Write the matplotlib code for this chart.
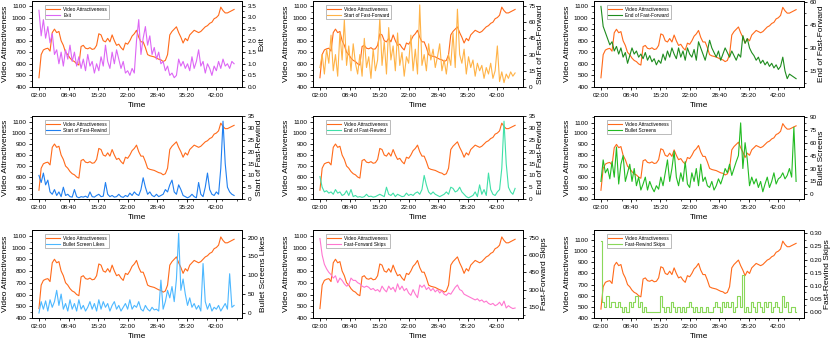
import numpy as np
import matplotlib
matplotlib.use("Agg")
import matplotlib.pyplot as plt
from matplotlib.ticker import MultipleLocator, FormatStrFormatter

plt.rcParams['font.family'] = ['Liberation Sans', 'DejaVu Sans']

# time axis (seconds), one sample every 30 s
t_sec = np.arange(120, 2761, 30)
time_ticks = [120, 520, 920, 1320, 1720, 2120, 2520]
time_labels = ["02:00", "08:40", "15:20", "22:00", "28:40", "35:20", "42:00"]

video_attr = [480, 680, 720, 730, 735, 710, 870, 900, 870, 880,
              800, 760, 700, 680, 650, 630, 620, 600, 590, 750,
              760, 735, 730, 740, 725, 730, 760, 860, 850, 800,
              790, 820, 790, 850, 800, 760, 770, 740, 720, 780,
              770, 800, 840, 860, 890, 830, 790, 790, 740, 680,
              670, 665, 660, 650, 640, 635, 620, 630, 680, 850,
              880, 900, 920, 870, 830, 780, 820, 800, 850, 870,
              890, 880, 870, 880, 900, 920, 930, 950, 960, 990,
              1000, 1020, 1090, 1060, 1040, 1040, 1050, 1060, 1070]

exit_rate = [3.3, 2.2, 2.9, 2.1, 2.6, 1.9, 2.3, 1.4, 1.6, 1.0,
             1.5, 0.9, 1.6, 1.2, 1.8, 1.1, 1.5, 0.9, 1.3, 0.8,
             1.2, 0.7, 1.4, 0.9, 1.1, 0.6, 1.0, 0.7, 1.3, 0.9,
             1.8, 1.1, 0.8, 1.5, 1.0, 1.6, 1.2, 0.8, 1.1, 0.6,
             0.7, 0.5, 0.8, 0.6, 2.0, 2.9, 1.4, 2.1, 2.6, 1.8,
             2.2, 1.4, 1.7, 1.2, 1.5, 1.0, 1.1, 0.7, 0.9, 0.5,
             0.6, 0.4, 0.5, 1.2, 0.9, 1.1, 0.8, 1.0, 0.7, 1.3,
             0.8, 1.1, 1.6, 0.9, 1.1, 0.6, 1.0, 0.8, 0.5, 0.9,
             0.7, 1.1, 0.8, 1.2, 0.9, 1.0, 0.8, 1.1, 1.0]

start_ff = [18, 30, 12, 35, 22, 48, 15, 30, 10, 50,
            25, 62, 20, 38, 15, 40, 22, 12, 30, 10,
            45, 18, 28, 8, 35, 15, 25, 64, 20, 42,
            12, 55, 25, 38, 15, 50, 20, 32, 10, 28,
            22, 48, 15, 35, 12, 76, 20, 30, 15, 40,
            25, 35, 18, 28, 40, 15, 25, 12, 30, 20,
            50, 18, 72, 30, 22, 35, 12, 28, 18, 25,
            10, 22, 15, 20, 8, 18, 12, 22, 8, 15,
            38, 5, 14, 4, 12, 8, 14, 10, 13]

end_ff = [57, 44, 40, 36, 32, 34, 28, 31, 26, 30,
          24, 27, 20, 25, 30, 26, 28, 24, 26, 23,
          27, 22, 25, 21, 23, 19, 22, 20, 26, 22,
          28, 24, 30, 26, 23, 30, 24, 28, 22, 30,
          26, 24, 29, 22, 34, 30, 26, 22, 28, 35,
          30, 27, 24, 28, 22, 26, 30, 27, 24, 28,
          25, 22, 26, 24, 38, 33, 36, 30, 27, 25,
          22, 24, 20, 22, 19, 21, 18, 20, 17, 19,
          16, 18, 24, 15, 10, 13, 12, 11, 10]

start_fr = [10, 7, 11, 6, 8, 3, 2, 4, 1.5, 3,
            1, 5, 1.5, 2, 1, 0.8, 4, 1, 0.5, 1,
            0.8, 1.2, 0.6, 3, 1, 0.8, 1.5, 2, 1, 1.2,
            7, 2, 1, 1.5, 0.8, 1, 2, 1, 0.7, 1.5,
            1, 2.5, 1.5, 3, 2, 1.5, 4, 9, 5, 2,
            3, 1.5, 1, 2, 1, 1.5, 2, 4, 3, 6,
            8, 3, 2, 6, 4, 1.5, 1, 0.5, 1, 2,
            1, 0.5, 7, 2, 1, 5, 11, 4, 2, 1.5,
            3, 2, 13, 33, 15, 5, 3, 2, 1.5]

end_fr = [9.5, 5, 3, 3.5, 2.5, 3, 2, 4, 2.5, 3,
          1.5, 2, 3.5, 1.5, 4, 1, 1.5, 0.8, 1, 0.7,
          1, 2, 1, 1.2, 0.8, 1, 1.5, 2, 1.5, 1,
          5, 2, 1.5, 2.5, 1, 2, 1.5, 1, 1.2, 2.5,
          1.5, 2, 1.5, 2.5, 3, 2, 4, 10, 6, 3,
          2, 3, 2, 1.5, 1, 1.5, 2, 3, 2, 5,
          4.5, 3, 3.5, 5, 3, 2, 1, 0.5, 1, 1.5,
          3, 1, 6, 2, 4, 1.5, 11, 4, 2, 1.5,
          3, 4, 13, 33, 15, 5, 3, 2, 4.5]

bullet_screens = [15, 40, 25, 30, 18, 38, 20, 55, 12, 35,
                  45, 15, 25, 35, 15, 30, 10, 20, 5, 12,
                  20, 5, 15, 8, 3, 10, 6, 20, 10, 25,
                  40, 15, 30, 50, 20, 10, 25, 15, 38, 12,
                  8, 25, 15, 30, 10, 35, 15, 20, 10, 8,
                  15, 5, 10, 18, 12, 20, 30, 25, 35, 22,
                  30, 38, 45, 83, 30, 60, 40, 10, 20, 12,
                  18, 8, 15, 3, 12, 20, 8, 15, 25, 12,
                  18, 20, 25, 18, 22, 30, 20, 78, 15]

bullet_likes = [0, 30, 10, 32, 5, 35, 15, 30, 60, 20,
                50, 10, 25, 5, 35, 10, 25, 5, 35, 10,
                20, 5, 15, 30, 10, 25, 5, 35, 10, 30,
                15, 25, 5, 20, 30, 10, 20, 5, 15, 25,
                10, 35, 10, 20, 15, 30, 10, 5, 20, 10,
                5, 15, 8, 10, 5, 87, 10, 30, 60, 40,
                70, 30, 90, 211, 60, 90, 50, 20, 40, 15,
                25, 10, 20, 5, 131, 30, 10, 25, 5, 15,
                10, 20, 5, 15, 25, 10, 104, 15, 20]

ff_skips = [744, 600, 520, 480, 450, 430, 400, 420, 360, 400,
            380, 350, 330, 340, 400, 380, 380, 360, 350, 330,
            320, 330, 320, 300, 310, 290, 300, 280, 330, 300,
            280, 330, 300, 320, 280, 350, 300, 330, 290, 310,
            270, 250, 300, 260, 230, 340, 320, 340, 300, 320,
            290, 310, 280, 300, 270, 290, 260, 250, 270, 260,
            290, 320, 340, 300, 290, 260, 250, 240, 230, 220,
            210, 220, 200, 210, 190, 200, 180, 170, 180, 160,
            170, 190, 160, 200, 140, 160, 145, 135, 140]

fr_skips = [0.27, 0.04, 0.02, 0.06, 0.02, 0.04, 0.04, 0.02, 0.04, 0.02,
            0.0, 0.02, 0.0, 0.04, 0.02, 0.04, 0.06, 0.02, 0.04, 0.0,
            0.02, 0.0, 0.0, 0.0, 0.0, 0.0, 0.0, 0.06, 0.02, 0.0,
            0.02, 0.0, 0.04, 0.02, 0.0, 0.02, 0.0, 0.02, 0.0, 0.02,
            0.04, 0.02, 0.0, 0.02, 0.0, 0.02, 0.0, 0.0, 0.02, 0.0,
            0.0, 0.02, 0.04, 0.02, 0.0, 0.04, 0.02, 0.04, 0.02, 0.04,
            0.0, 0.02, 0.06, 0.02, 0.14, 0.0, 0.02, 0.0, 0.04, 0.02,
            0.0, 0.04, 0.02, 0.0, 0.04, 0.02, 0.04, 0.0, 0.02, 0.04,
            0.02, 0.0, 0.06, 0.02, 0.04, 0.0, 0.02, 0.02, 0.0]

# label, values, colour, right ylim, right tick step, left top
panels = [
    ("Exit", exit_rate, "#dd66f5", (0, 3.7), 0.5, 1143),
    ("Start of Fast-Forward", start_ff, "#ffb347", (0, 79.6), 15, 1143),
    ("End of Fast-Forward", end_ff, "#1e8c1e", (4.6, 60.5), 15, 1145),
    ("Start of Fast-Rewind", start_fr, "#1f7ff0", (0, 35.2), 5, 1155),
    ("End of Fast-Rewind", end_fr, "#40e0a8", (0, 35.2), 5, 1155),
    ("Bullet Screens", bullet_screens, "#22bb22", (-5.4, 91), 15, 1160),
    ("Bullet Screens Likes", bullet_likes, "#4db8ff", (-13.4, 220), 50, 1149),
    ("Fast-Forward Skips", ff_skips, "#ff77d0", (53, 818), 150, 1149),
    ("Fast-Rewind Skips", fr_skips, "#8ad85a", (-0.023, 0.313), 0.05, 1190),
]
legend_names = ["Exit", "Start of Fast-Forward", "End of Fast-Forward",
                "Start of Fast-Rewind", "End of Fast-Rewind", "Bullet Screens",
                "Bullet Screen Likes", "Fast-Forward Skips", "Fast-Rewind Skips"]

W, H = 830, 341
fig = plt.figure(figsize=(W / 100, H / 100), dpi=100)

col_left = [32, 313, 594]
col_w = 210
rows = [(1, 87), (116, 199), (230, 318)]

for i, (lab, vals, col, rlim, rstep, ltop) in enumerate(panels):
    r, c = divmod(i, 3)
    top, bot = rows[r]
    ax = fig.add_axes([col_left[c] / W, 1 - bot / H, col_w / W, (bot - top) / H])
    ax2 = ax.twinx()
    l1, = ax.plot(t_sec, video_attr, color="#ff6a1a", lw=0.8)
    ds = "steps-mid" if lab == "Fast-Rewind Skips" else "default"
    l2, = ax2.plot(t_sec, vals, color=col, lw=0.8, drawstyle=ds)

    ax.set_xlim(26, 2867)
    ax.set_ylim(400, ltop)
    ax2.set_ylim(*rlim)
    ax.set_xticks(time_ticks)
    ax.set_xticklabels(time_labels)
    ax.xaxis.set_minor_locator(MultipleLocator(200))
    ax.yaxis.set_major_locator(MultipleLocator(100))
    ax.yaxis.set_minor_locator(MultipleLocator(50))
    ax2.yaxis.set_major_locator(MultipleLocator(rstep))
    ax2.yaxis.set_minor_locator(MultipleLocator(rstep / 2))
    if lab == "Fast-Rewind Skips":
        ax2.yaxis.set_major_formatter(FormatStrFormatter("%.2f"))
    elif lab == "Exit":
        ax2.yaxis.set_major_formatter(FormatStrFormatter("%.1f"))

    for a in (ax, ax2):
        a.tick_params(which="major", direction="out", length=2.5, width=0.6,
                      labelsize=4.6, pad=1.5)
        a.tick_params(which="minor", direction="out", length=1.3, width=0.5)
        for s in a.spines.values():
            s.set_linewidth(0.7)

    ax.set_ylabel("Video Attractiveness", fontsize=6, labelpad=2)
    ax2.set_ylabel(lab, fontsize=6, labelpad=1)
    ax.set_xlabel("Time", fontsize=6, labelpad=3)

    leg = ax2.legend([l1, l2], ["Video Attractiveness", legend_names[i]],
                     loc="upper left", bbox_to_anchor=(0.06, 0.95),
                     fontsize=3.4, frameon=True, fancybox=False,
                     handlelength=3.0, borderpad=0.35, labelspacing=0.15,
                     handletextpad=0.6, borderaxespad=0)
    leg.get_frame().set_edgecolor("#888888")
    leg.get_frame().set_linewidth(0.5)

fig.savefig("out.png", dpi=100)
